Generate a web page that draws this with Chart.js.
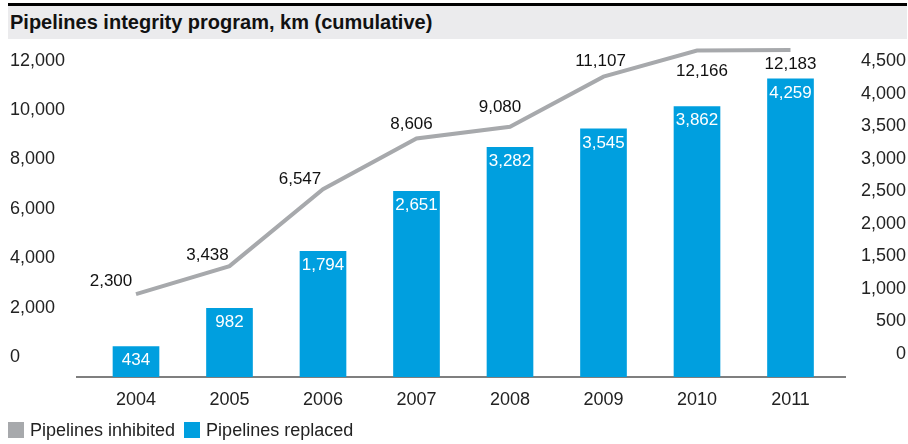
<!DOCTYPE html>
<html lang="en">

<head>
    <meta charset="UTF-8">
    <title>Pipelines integrity program</title>
    <script src="https://cdn.jsdelivr.net/npm/chart.js"></script>
    <style>
        html, body { margin: 0; padding: 0; background: #fff; overflow: hidden; }
        #wrap { position: relative; width: 908px; height: 444px; font-family: 'Liberation Sans', Arial, sans-serif; }
        #title {
            position: absolute; left: 8px; right: 1px; top: 3px;
            border-top: 3px solid #000; background: #ebebed;
            height: 33px; line-height: 33px; padding-left: 2px;
            font-weight: bold; font-size: 20px; color: #111;
        }
        #myChart { position: absolute; left: 0; top: 0; }
        #legend { position: absolute; left: 8px; top: 419px; font-size: 18px; color: #222; white-space: nowrap; }
        #legend span.item { display: inline-block; margin-right: 9px; line-height: 22px; }
        #legend i { display: inline-block; width: 16px; height: 16px; margin-right: 6px; vertical-align: -2px; }
    </style>
</head>

<body>
    <div id="wrap">
        <canvas id="myChart" width="908" height="444"></canvas>
        <div id="title">Pipelines integrity program, km (cumulative)</div>
        <div id="legend"></div>
    </div>

    <script>
        // data
        var years = ['2004', '2005', '2006', '2007', '2008', '2009', '2010', '2011'];
        var inhibited = [2300, 3438, 6547, 8606, 9080, 11107, 12166, 12183];
        var replaced = [434, 982, 1794, 2651, 3282, 3545, 3862, 4259];
        var leftTicks = [0, 2000, 4000, 6000, 8000, 10000, 12000];
        var rightTicks = [0, 500, 1000, 1500, 2000, 2500, 3000, 3500, 4000, 4500];

        // where the line labels sit relative to their point
        var lineLabelShift = [[-25, -13], [-22, -11], [-23, -10], [-5, -14], [-10, -19], [-3, -15], [5, 21], [0, 14]];

        var gray = '#a7a9ac';
        var blue = '#009fdf';
        Chart.defaults.font.family = "'Liberation Sans', Arial, sans-serif";
        Chart.defaults.color = '#222';

        function fmt(v) { return v.toLocaleString('en-US'); }

        var valueLabels = {
            id: 'valueLabels',
            afterDatasetsDraw: function (chart) {
                var ctx = chart.ctx;
                ctx.save();
                ctx.font = "17px 'Liberation Sans', Arial, sans-serif";
                ctx.textAlign = 'center';
                ctx.textBaseline = 'middle';
                chart.getDatasetMeta(1).data.forEach(function (bar, i) {
                    ctx.fillStyle = '#fff';
                    ctx.fillText(fmt(replaced[i]), bar.x, bar.y + 14);
                });
                chart.getDatasetMeta(0).data.forEach(function (pt, i) {
                    ctx.fillStyle = '#111';
                    ctx.fillText(fmt(inhibited[i]), pt.x + lineLabelShift[i][0], pt.y + lineLabelShift[i][1]);
                });
                ctx.restore();
            }
        };

        // baseline runs a bit past the plot on both sides
        var baseLine = {
            id: 'baseLine',
            beforeDatasetsDraw: function (chart) {
                var ctx = chart.ctx;
                var y = chart.scales.yBar.getPixelForValue(0);
                ctx.save();
                ctx.strokeStyle = '#555';
                ctx.lineWidth = 1.5;
                ctx.beginPath();
                ctx.moveTo(76, y);
                ctx.lineTo(846, y);
                ctx.stroke();
                ctx.restore();
            }
        };

        var ctx01 = document.getElementById('myChart');
        var chart01 = new Chart(ctx01, {
            data: {
                labels: years,
                datasets: [{
                    type: 'line',
                    label: 'Pipelines inhibited',
                    data: inhibited,
                    yAxisID: 'yL',
                    borderColor: gray,
                    backgroundColor: gray,
                    borderWidth: 4,
                    borderJoinStyle: 'miter',
                    pointRadius: 0,
                    tension: 0,
                    order: 0
                }, {
                    type: 'bar',
                    label: 'Pipelines replaced',
                    data: replaced,
                    yAxisID: 'yBar',
                    backgroundColor: blue,
                    barThickness: 46,
                    order: 1
                }]
            },
            options: {
                responsive: false,
                animation: false,
                layout: { padding: { top: 45, left: 10, right: 2, bottom: 34 } },
                plugins: {
                    title: { display: false },
                    tooltip: { enabled: false },
                    legend: { display: false }
                },
                scales: {
                    x: {
                        offset: true,
                        grid: { display: false },
                        border: { display: false },
                        ticks: { font: { size: 18 }, color: '#222', padding: 4, maxRotation: 0 },
                        afterFit: function (s) { s.height = 33; }
                    },
                    yL: {
                        position: 'left',
                        min: -1053,
                        max: 12389,
                        grid: { display: false },
                        border: { display: false },
                        afterBuildTicks: function (s) { s.ticks = leftTicks.map(function (v) { return { value: v }; }); },
                        ticks: {
                            font: { size: 18 }, color: '#222', crossAlign: 'far', labelOffset: 6,
                            callback: function (v) { return fmt(v); }
                        },
                        afterFit: function (s) { s.width = 79.25; }
                    },
                    yR: {
                        position: 'right',
                        min: -353,
                        max: 4746,
                        grid: { display: false },
                        border: { display: false },
                        afterBuildTicks: function (s) { s.ticks = rightTicks.map(function (v) { return { value: v }; }); },
                        ticks: {
                            font: { size: 18 }, color: '#222', crossAlign: 'far',
                            callback: function (v) { return fmt(v); }
                        },
                        afterFit: function (s) { s.width = 68.75; }
                    },
                    yBar: {
                        display: false,
                        min: 0,
                        max: 4743
                    }
                }
            },
            plugins: [baseLine, valueLabels]
        });

        // legend built from the datasets
        var legendHTML = '';
        chart01.data.datasets.forEach(function (ds) {
            legendHTML += '<span class="item"><i style="background:' + ds.backgroundColor + '"></i>' + ds.label + '</span>';
        });
        document.getElementById('legend').innerHTML = legendHTML;
    </script>
</body>

</html>
